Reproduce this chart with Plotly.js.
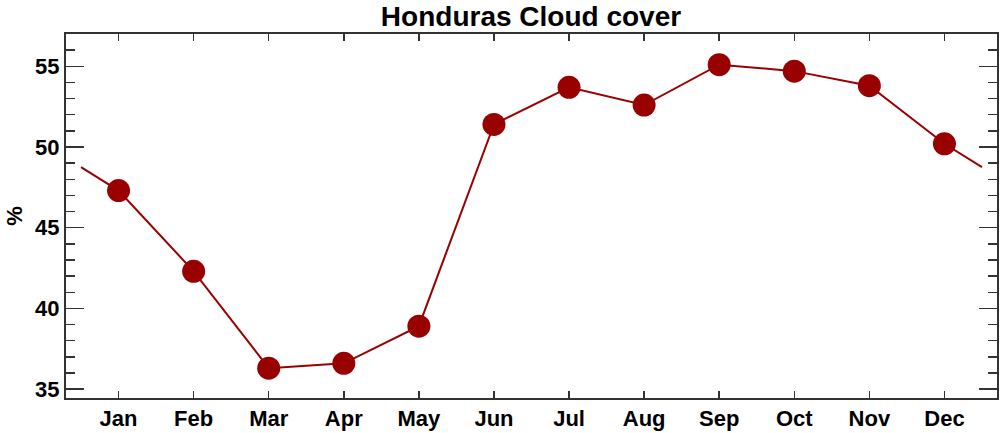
<!DOCTYPE html>
<html>
<head>
<meta charset="utf-8">
<script src="https://cdn.plot.ly/plotly-3.0.1.min.js"></script>
<style>html,body{margin:0;padding:0;background:#fff;}#chart{width:1000px;height:433px;}</style>
</head>
<body>
<div id="chart"></div>
<script>
const months = ["Jan","Feb","Mar","Apr","May","Jun","Jul","Aug","Sep","Oct","Nov","Dec"];
const monthIndex = [1,2,3,4,5,6,7,8,9,10,11,12];
const cloudCover = [47.3, 42.3, 36.3, 36.6, 38.9, 51.4, 53.7, 52.6, 55.1, 54.7, 53.8, 50.2];

// line wraps half a month beyond each end (Dec->Jan cycle)
const wrapVal = (cloudCover[0] + cloudCover[11]) / 2;
const lineX = [0.5].concat(monthIndex, [12.5]);
const lineY = [wrapVal].concat(cloudCover, [wrapVal]);

const col = '#990000';
const traces = [
  {x: lineX, y: lineY, mode: 'lines', line: {color: col, width: 2}, hoverinfo: 'skip'},
  {x: monthIndex, y: cloudCover, mode: 'markers', marker: {color: col, size: 23}}
];
const tickFont = {family: 'Liberation Sans, Arial, sans-serif', size: 22, color: '#000', weight: 'bold'};
const layout = {
  width: 1000, height: 433,
  margin: {l: 66, r: 3, t: 34, b: 35},
  showlegend: false,
  paper_bgcolor: '#fff', plot_bgcolor: '#fff',
  title: {text: '<b>Honduras Cloud cover</b>', x: 0.531, xanchor: 'center', y: 0.962, yanchor: 'middle',
          font: {family: 'Liberation Sans, Arial, sans-serif', size: 28, color: '#000'}},
  xaxis: {range: [0.3, 12.7], tickmode: 'array', tickvals: monthIndex, ticktext: months,
          ticks: 'inside', ticklen: 7, tickwidth: 1.5, tickcolor: '#333',
          showline: true, linecolor: '#333', linewidth: 2, mirror: 'ticks',
          showgrid: false, zeroline: false, tickfont: tickFont},
  yaxis: {range: [34.45, 57], tickvals: [35,40,45,50,55],
          ticks: 'inside', ticklen: 18, tickwidth: 1.5, tickcolor: '#333',
          minor: {dtick: 1, ticks: 'inside', ticklen: 9, tickwidth: 1.5, tickcolor: '#333', showgrid: false},
          showline: true, linecolor: '#333', linewidth: 2, mirror: 'ticks',
          showgrid: false, zeroline: false, tickfont: tickFont,
          title: {text: '<b>%</b>', standoff: 6, font: {family: 'Liberation Sans, Arial, sans-serif', size: 22, color: '#000'}}}
};
Plotly.newPlot('chart', traces, layout, {displayModeBar: false, staticPlot: true});
</script>
</body>
</html>
